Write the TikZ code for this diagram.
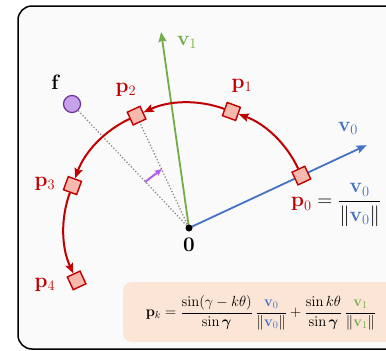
\documentclass[tikz,border=0pt]{standalone}
\usepackage{amsmath}
\usetikzlibrary{arrows.meta,calc}
\definecolor{dred}{RGB}{192,0,0}
\definecolor{sqfill}{RGB}{247,185,174}
\definecolor{vblue}{RGB}{68,114,196}
\definecolor{vgreen}{RGB}{112,173,71}
\definecolor{fpurple}{RGB}{200,162,232}
\definecolor{fedge}{RGB}{112,48,160}
\definecolor{apurple}{RGB}{176,96,232}
\definecolor{boxfill}{RGB}{251,229,214}
\definecolor{bgfill}{RGB}{250,250,250}
\begin{document}
\begin{tikzpicture}[x=1pt,y=1pt,
  sqnode/.style={draw=dred,fill=sqfill,line width=1.4pt,minimum size=14pt,inner sep=0pt},
  arcarrow/.style={draw=dred,line width=2pt,-{Stealth[length=10pt,width=8pt,inset=1.5pt]}},
  vecarrow/.style={line width=1.8pt,-{Stealth[length=10pt,width=8pt,inset=1.5pt]}},
  dotline/.style={draw=gray,dotted,line width=1.2pt},
  lbl/.style={font=\fontsize{20.74}{24}\selectfont,inner sep=0pt},
  fml/.style={font=\fontsize{14.4}{18}\selectfont,inner sep=0pt,scale=1.02}]
\useasboundingbox (0,0) rectangle (386,-351);
\clip (0,0) rectangle (386,-351);
\fill[white] (0,0) rectangle (386,-351);
\draw[line width=1.5pt,fill=bgfill,rounded corners=14pt] (18,-6) rectangle (410,-349);
\fill[boxfill,rounded corners=9pt] (123,-282) rectangle (410,-342);
\coordinate (O) at (189,-228);
% f point
\node[circle,draw=fedge,fill=fpurple,line width=1.2pt,minimum size=17pt,inner sep=0pt] (f) at (72,-104) {};
% squares positions
\path (O) ++(25:124) coordinate (c0);
\path (O) ++(70:124) coordinate (c1);
\path (O) ++(115:124) coordinate (c2);
\path (O) ++(160:124) coordinate (c3);
\path (O) ++(205:124) coordinate (c4);
\draw[dotline] (f) -- (O);
\draw[dotline] (c2) -- (O);
% vectors
\path (O) ++(25:196) coordinate (v0tip);
\path (O) ++(98.1:198) coordinate (v1tip);
\draw[vecarrow,vblue] (O) -- (v0tip);
\draw[vecarrow,vgreen] (O) -- (v1tip);
% squares
\node[sqnode,rotate=25] (p0) at (c0) {};
\node[sqnode,rotate=70] (p1) at (c1) {};
\node[sqnode,rotate=115] (p2) at (c2) {};
\node[sqnode,rotate=160] (p3) at (c3) {};
\node[sqnode,rotate=205] (p4) at (c4) {};
% arcs
\draw[arcarrow] (p0) to[bend right=22.5,looseness=0.885] (p1);
\draw[arcarrow] (p1) to[bend right=22.5,looseness=0.885] (p2);
\draw[arcarrow] (p2) to[bend right=22.5,looseness=0.885] (p3);
\draw[arcarrow] (p3) to[bend right=22.5,looseness=0.885] (p4);
% origin
\fill (O) circle (3.5pt);
% purple arrow
\coordinate (pa) at (145,-182);
\coordinate (pb) at (162,-169);
\draw[apurple,line width=2pt,-{Stealth[length=7pt,width=6pt,inset=1pt]}] (pa) -- (pb);
% labels
\node[lbl] (lf) at (56,-82) {$\mathbf{f}$};
\node[lbl,text=dred] (l2) at (126,-90) {$\mathbf{p}_2$};
\node[lbl,text=dred] (l1) at (242,-86) {$\mathbf{p}_1$};
\node[lbl,text=dred] (l3) at (45,-184) {$\mathbf{p}_3$};
\node[lbl,text=dred] (l4) at (45,-285) {$\mathbf{p}_4$};
\node[lbl,text=vgreen] (lv1) at (187,-42) {$\mathbf{v}_1$};
\node[lbl,text=vblue] (lv0) at (348,-128) {$\mathbf{v}_0$};
\node[lbl] (l0) at (189,-245) {$\mathbf{0}$};
\node[lbl,anchor=west] (leq) at (291,-205) {$\color{dred}\mathbf{p}_0\color{black} = \dfrac{\color{vblue}\mathbf{v}_0}{\|\color{vblue}\mathbf{v}_0\color{black}\|}$};
\node[fml] (formula) at (261,-313) {$\mathbf{p}_k = \dfrac{\sin(\gamma-k\theta)}{\sin\boldsymbol{\gamma}}\,\dfrac{\color{vblue}\mathbf{v}_0}{\|\color{vblue}\mathbf{v}_0\color{black}\|} + \dfrac{\sin k\theta}{\sin\boldsymbol{\gamma}}\,\dfrac{\color{vgreen}\mathbf{v}_1}{\|\color{vgreen}\mathbf{v}_1\color{black}\|}$};
\end{tikzpicture}
\end{document}
